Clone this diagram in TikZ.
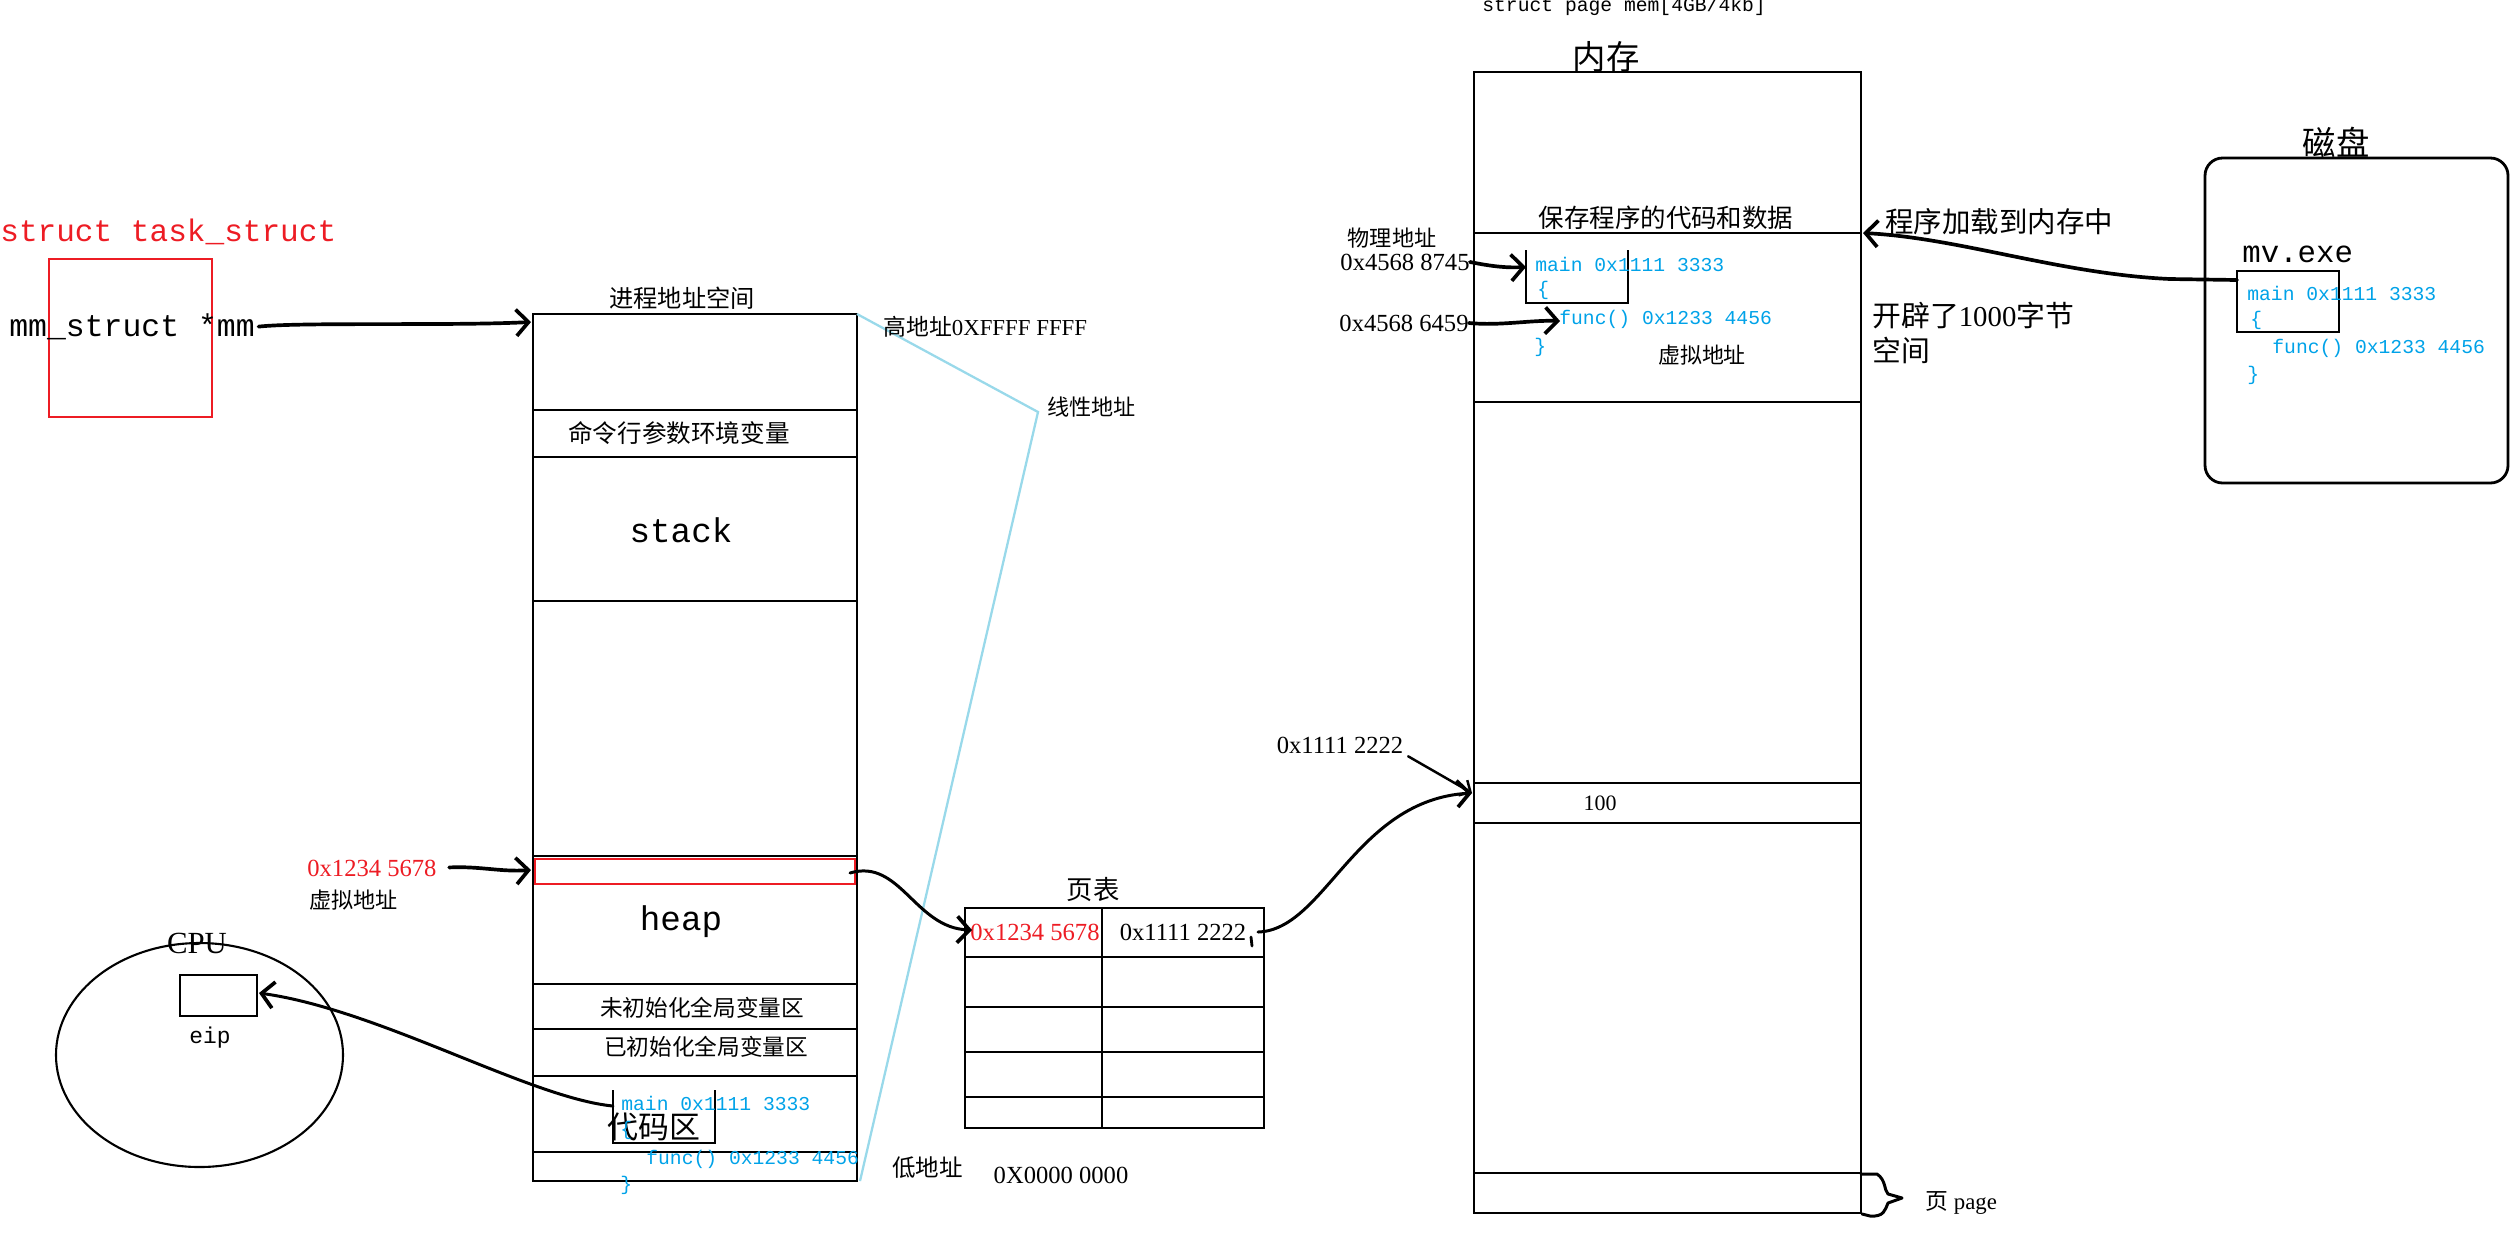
\documentclass[tikz,border=0pt]{standalone}
\usepackage{fontspec}
\setmainfont{Liberation Serif}
\setmonofont{Liberation Mono}
\newfontfamily\cjk{Noto Sans CJK SC}
\usetikzlibrary{arrows.meta,shapes.geometric}
\definecolor{memRed}{HTML}{ED1C24}
\definecolor{memBlue}{HTML}{00A2E8}
\definecolor{memCyan}{HTML}{99D9EA}
\newcommand{\fsz}[1]{\fontsize{#1}{#1}\selectfont}

\begin{document}
\begin{tikzpicture}[
    x=0.02cm, y=-0.02cm,
    box/.style      = {draw=black, line width=1.6pt},
    ubox/.style     = {draw=black, line width=1.4pt},
    redbox/.style   = {draw=memRed, line width=1.6pt},
    hand/.style     = {draw=black, line width=2.1pt, line cap=round, line join=round},
    handarr/.style  = {hand, -{Straight Barb[length=7pt,width=15pt,line width=2.1pt]}},
    thinarr/.style  = {draw=black, line width=1.4pt, line cap=round, -{Straight Barb[length=5pt,width=10pt,line width=1.4pt]}},
    lin/.style      = {draw=memCyan, line width=1.3pt},
    cjklbl/.style   = {font=\cjk\fsz{13}, inner sep=0pt},
    numlbl/.style   = {font=\fsz{14}, inner sep=0pt},
    code/.style     = {font=\ttfamily\fsz{11.2}, text=memBlue, inner sep=0pt, anchor=west},
    big/.style      = {font=\ttfamily\fsz{19.5}, inner sep=0pt, anchor=base}
  ]
  \useasboundingbox (0,0) rectangle (2517,1235);

  %% task_struct with its mm pointer
  \node[font=\ttfamily\fsz{17.7}, text=memRed, anchor=west, inner sep=0pt] (tsk) at (0,232) {struct task\_struct};
  \draw[redbox] (49,259) rectangle (212,417);
  \node[font=\ttfamily\fsz{17.9}, anchor=west, inner sep=0pt] (mm) at (9,327) {mm\_struct *mm};

  %% process address space: outline + section lines
  \draw[box] (533,314) rectangle (857,1181);
  \foreach \y in {410,457,601,856,984,1029,1076,1152}{\draw[box] (533,\y) -- (857,\y);}
  \draw[redbox] (535,859) rectangle (855,884);
  \coordinate (vasIn)   at (531,322);
  \coordinate (heapIn)  at (531,870);
  \coordinate (heapOut) at (850,873);
  \draw[handarr, shorten <=2pt] (mm.east) .. controls (300,322) and (450,326) .. (vasIn);
  \node[cjklbl, font=\cjk\fsz{13.8}] (vasTitle) at (682,298) {进程地址空间};
  \node[cjklbl, font=\cjk\fsz{14}] (argEnv) at (679,433) {命令行参数环境变量};
  \node[big] (stk) at (681,542) {stack};
  \node[big] (hp) at (681,930) {heap};
  \node[cjklbl, font=\cjk\fsz{12.9}] (bss) at (702,1008) {未初始化全局变量区};
  \node[cjklbl, font=\cjk\fsz{12.9}] (dat) at (706,1047) {已初始化全局变量区};
  \node[cjklbl, font=\cjk\fsz{17.6}] (txt) at (654,1127) {代码区};
  \draw[ubox] (613,1090) -- (613,1143) -- (715,1143) -- (715,1090);
  \coordinate (codeOut) at (613,1106);
  \node[code] (vMain) at (621,1103) {main 0x1111 3333};
  \node[code] (vOpen) at (620,1130) {\{};
  \node[code] (vFunc) at (646,1159) {func() 0x1233 4456};
  \node[code] (vClose) at (620,1185) {\}};

  %% linear address marker
  \coordinate (hiAddr) at (857,314);
  \coordinate (linTip) at (1038,412);
  \coordinate (loAddr) at (860,1181);
  \draw[lin] (hiAddr) -- (linTip) -- (loAddr);
  \node[cjklbl, font=\cjk\fsz{12.6}, anchor=west] (linLbl) at (1047,407) {线性地址};
  \node[numlbl, font=\fsz{13}, anchor=west] (hiLbl) at (883,327) {{\cjk 高地址}0XFFFF FFFF};
  \node[cjklbl, font=\cjk\fsz{13.4}, anchor=west] (loLbl) at (892,1168) {低地址};
  \node[numlbl] (loVal) at (1061,1175) {0X0000 0000};

  %% virtual address pointing into heap
  \node[numlbl, text=memRed, anchor=west] (va) at (307,868) {0x1234 5678};
  \node[cjklbl, font=\cjk\fsz{12.6}, anchor=west] (vaLbl) at (309,900) {虚拟地址};
  \draw[handarr, shorten <=7pt] (va.east) .. controls (480,866) and (500,872) .. (heapIn);

  %% CPU
  \node[draw, ellipse, line width=1.2pt, minimum width=287*0.02cm, minimum height=224*0.02cm, inner sep=0pt] (cpu) at (199.5,1055) {};
  \node[font=\fsz{17.5}, inner sep=0pt] (cpuLbl) at (197,943) {CPU};
  \draw[box, line width=1.5pt] (180,975) rectangle (257,1016);
  \coordinate (eipIn) at (259,993);
  \node[font=\ttfamily\fsz{13}, inner sep=0pt] (eip) at (210,1038) {eip};
  \draw[handarr, line width=1.7pt] (codeOut) .. controls (530,1098) and (380,1010) .. (eipIn);

  %% page table
  \node[cjklbl, font=\cjk\fsz{15}] (ptLbl) at (1093,890) {页表};
  \draw[box] (965,908) rectangle (1264,1128);
  \foreach \y in {957,1007,1052,1097}{\draw[box] (965,\y) -- (1264,\y);}
  \draw[box] (1102,908) -- (1102,1128);
  \node[numlbl, text=memRed] (ptVa) at (1035,932) {0x1234 5678};
  \node[numlbl] (ptPa) at (1183,932) {0x1111 2222};
  \coordinate (ptIn)  at (972,930);
  \coordinate (ptOut) at (1258,932);
  \draw[hand, line width=1.6pt] (1251,937) -- (1252,946);
  \draw[handarr, line width=1.7pt] (heapOut) .. controls (900,858) and (915,928) .. (ptIn);

  %% physical memory
  \node[font=\ttfamily\fsz{11.2}, anchor=base west, inner sep=0pt] (memArr) at (1482,11) {struct page mem[4GB/4kb]};
  \node[cjklbl, font=\cjk\fsz{19}] (memLbl) at (1606,57) {内存};
  \draw[box] (1474,72) rectangle (1861,1213);
  \foreach \y in {233,402,783,823,1173}{\draw[box] (1474,\y) -- (1861,\y);}
  \node[cjklbl, font=\cjk\fsz{14.5}] (saveLbl) at (1666,218) {保存程序的代码和数据};
  \node[cjklbl, font=\cjk\fsz{12.6}] (paLbl) at (1392,238) {物理地址};
  \node[numlbl] (pa1) at (1405,262) {0x4568 8745};
  \node[numlbl] (pa2) at (1404,323) {0x4568 6459};
  \draw[ubox] (1526,250) -- (1526,303) -- (1628,303) -- (1628,250);
  \coordinate (mMainIn) at (1526,267);
  \coordinate (mFuncIn) at (1560,321);
  \draw[handarr] (pa1.east) .. controls (1490,266) and (1505,268) .. (mMainIn);
  \draw[handarr] (pa2.east) .. controls (1500,326) and (1530,320) .. (mFuncIn);
  \node[code] (mMain) at (1535,264) {main 0x1111 3333};
  \node[code] (mOpen) at (1537,290) {\{};
  \node[code] (mFunc) at (1559,319) {func() 0x1233 4456};
  \node[code] (mClose) at (1534,347) {\}};
  \node[cjklbl, font=\cjk\fsz{12.5}] (mVa) at (1702,355) {虚拟地址};
  \node[cjklbl, font=\fsz{16.4}, anchor=west] (alloc) at (1872,315) {{\cjk 开辟了}1000{\cjk 字节}};
  \node[cjklbl, font=\cjk\fsz{16.4}, anchor=west] (alloc2) at (1872,350) {空间};
  \node[cjklbl, font=\cjk\fsz{16.2}, anchor=west] (loadLbl) at (1885,222) {程序加载到内存中};
  \node[font=\fsz{12.5}, inner sep=0pt] (hundred) at (1600,803) {100};
  \coordinate (memRow) at (1472,793);
  \node[numlbl] (phLbl) at (1340,745) {0x1111 2222};
  \draw[thinarr, shorten <=3pt] (phLbl.south east) -- (memRow);
  \draw[handarr, line width=1.7pt] (ptOut) .. controls (1325,930) and (1355,800) .. (memRow);

  %% one page = last row
  \draw[hand, line width=1.7pt] (1861,1174) -- (1877,1174) .. controls (1886,1180) and (1884,1190) .. (1888,1194)
    -- (1902,1198) -- (1888,1203) .. controls (1885,1210) and (1884,1217) .. (1870,1216) -- (1862,1214);
  \node[font=\fsz{13}, anchor=west, inner sep=0pt] (pgLbl) at (1925,1203) {{\cjk 页} page};

  %% disk holding the executable
  \node[cjklbl, font=\cjk\fsz{19}] (diskLbl) at (2336,142) {磁盘};
  \draw[box, rounded corners=10pt] (2205,158) rectangle (2508,483);
  \node[font=\ttfamily\fsz{17.5}, anchor=west, inner sep=0pt] (exe) at (2242,254) {mv.exe};
  \draw[box] (2237,271) rectangle (2339,332);
  \coordinate (diskOut) at (2237,280);
  \coordinate (memIn) at (1863,233);
  \node[code] (dMain) at (2247,293) {main 0x1111 3333};
  \node[code] (dOpen) at (2250,320) {\{};
  \node[code] (dFunc) at (2272,348) {func() 0x1233 4456};
  \node[code] (dClose) at (2247,375) {\}};
  \draw[handarr] (diskOut) -- (2170,279) .. controls (2060,274) and (1960,238) .. (memIn);
\end{tikzpicture}
\end{document}
